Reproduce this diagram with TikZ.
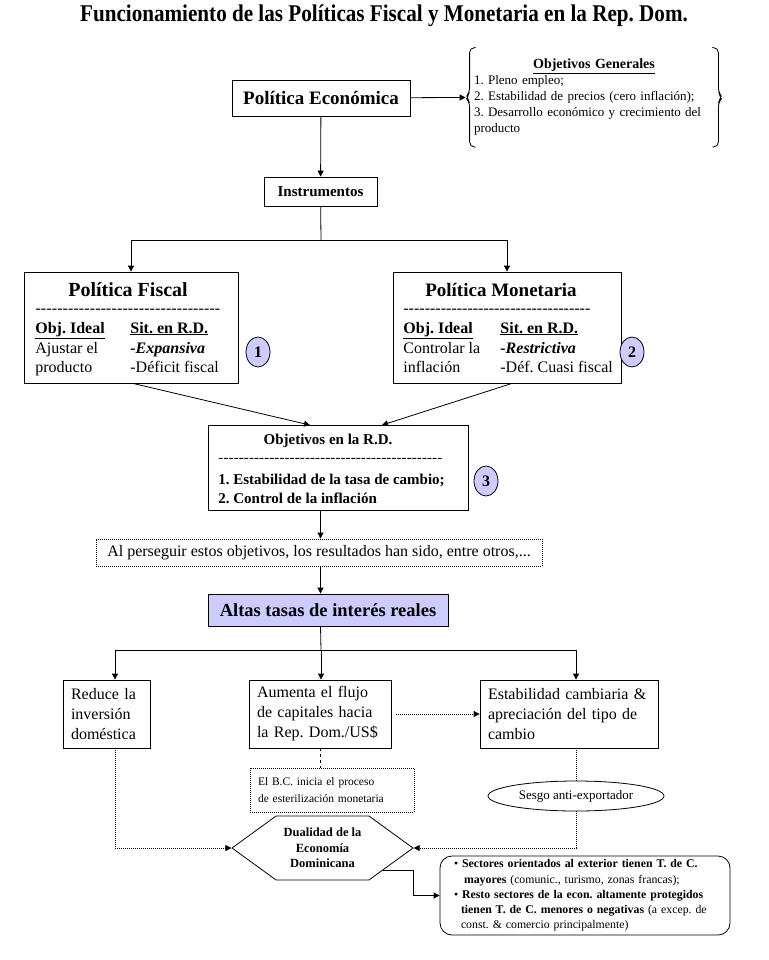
\documentclass[tikz,border=0pt]{standalone}
\usepackage{fontspec}
\setmainfont{Liberation Serif}
\usetikzlibrary{arrows.meta,shapes.geometric,shapes.symbols}
\definecolor{lila}{RGB}{204,204,255}
\newcommand\fsz[2]{\fontsize{#1}{#2}\selectfont}
\newcommand\hyphenrule[1]{\hbox to #1pt{\xleaders\hbox{-}\hfill}}
\frenchspacing

\begin{document}
\begin{tikzpicture}
  [x=1pt, y=-1pt, line width=0.8pt, >={Triangle[length=6pt,width=6pt]},
   box/.style={draw, rectangle, inner sep=0pt, align=center},
   txt/.style={inner sep=0pt, anchor=base west},
   dots/.style={dash pattern=on 1pt off 1pt},
   badge/.style={ellipse, draw, fill=lila, minimum width=24, minimum height=30,
     inner sep=0pt, font=\bfseries\fsz{16}{18}}]
  \useasboundingbox (0,0) rectangle (768,960);

  \node [inner sep=0pt, font=\bfseries\fsz{24}{28}] (title) at (384,16)
    {\scalebox{0.88}[1]{Funcionamiento de las Políticas Fiscal y Monetaria en la Rep. Dom.}};

  % top level
  \node [box, minimum width=178, minimum height=36, font=\bfseries\fsz{19}{22}] (pe) at (321,98) {Política Económica};
  \node [inner xsep=8pt, inner ysep=0pt, text width=240, minimum height=99, align=left,
    font=\fsz{13}{16}] (og) at (594,97.5)
    {\makebox[240pt]{\bfseries\fsz{14}{16}\underline{Objetivos Generales}}\\
     1. Pleno empleo;\\
     2. Estabilidad de precios (cero inflación);\\
     3. Desarrollo económico y crecimiento del\\
     producto};
  \draw [rounded corners=5] (og.north west) ++(10,0) -- ++(-6,0) -- ++(0,45) -- (og.west)
    -- ++(4,4.5) -- ++(0,45) -- ++(6,0);
  \draw [rounded corners=5] (og.north east) ++(-10,0) -- ++(6,0) -- ++(0,45) -- (og.east)
    -- ++(-4,4.5) -- ++(0,45) -- ++(-6,0);
  \node [box, minimum width=113, minimum height=29, font=\bfseries\fsz{15}{18}] (inst) at (320.5,191.5) {Instrumentos};

  \draw [->] (pe) -- (og.west);
  \draw [->] (pe) -- (inst);

  % fiscal and monetary policy
  \node [box, minimum width=214, minimum height=111] (pf) at (131,327.5) {};
  \node [inner sep=0pt, font=\bfseries\fsz{20}{22}] (pfT) at (128,290) {Política Fiscal};
  \node [txt, font=\fsz{16}{18}] (pfD) at (35,313) {\hyphenrule{185}};
  \node [txt, font=\bfseries\fsz{16}{18}] (pfO1) at (35,333) {\underline{Obj. Ideal}};
  \node [txt, font=\bfseries\fsz{16}{18}] (pfO2) at (130,333) {\underline{Sit. en R.D.}};
  \node [txt, font=\fsz{16}{18}] (pfA1) at (35,353) {Ajustar el};
  \node [txt, font=\bfseries\itshape\fsz{16}{18}] (pfA2) at (130,353) {-Expansiva};
  \node [txt, font=\fsz{16}{18}] (pfB1) at (35,372) {producto};
  \node [txt, font=\fsz{16}{18}] (pfB2) at (130,372) {-Déficit fiscal};
  \node [badge] (c1) at (258,352) {1};

  \node [box, minimum width=228, minimum height=111] (pm) at (507,327.5) {};
  \node [inner sep=0pt, font=\bfseries\fsz{19}{22}] (pmT) at (501,290) {Política Monetaria};
  \node [txt, font=\fsz{16}{18}] (pmD) at (403,313) {\hyphenrule{187}};
  \node [txt, font=\bfseries\fsz{16}{18}] (pmO1) at (403,333) {\underline{Obj. Ideal}};
  \node [txt, font=\bfseries\fsz{16}{18}] (pmO2) at (500,333) {\underline{Sit. en R.D.}};
  \node [txt, font=\fsz{16}{18}] (pmA1) at (403,353) {Controlar la};
  \node [txt, font=\bfseries\itshape\fsz{16}{18}] (pmA2) at (500,353) {-Restrictiva};
  \node [txt, font=\fsz{16}{18}] (pmB1) at (403,372) {inflación};
  \node [txt, font=\fsz{16}{18}] (pmB2) at (500,372) {-Déf. Cuasi fiscal};
  \node [badge] (c2) at (632,352) {2};

  \coordinate (s1) at (321,240);
  \draw (inst) -- (s1);
  \draw [->] (s1) -| (pf);
  \draw [->] (s1) -| (pm);

  % objectives in the R.D.
  \node [box, minimum width=260, minimum height=85] (ord) at (338,468) {};
  \node [inner sep=0pt, font=\bfseries\fsz{15}{18}] (ordT) at (328,441) {Objetivos en la R.D.};
  \node [txt, font=\fsz{15}{18}] (ordD) at (218,462) {\hyphenrule{224}};
  \node [txt, font=\bfseries\fsz{15}{18}] (ord1) at (218,484) {1. Estabilidad de la tasa de cambio;};
  \node [txt, font=\bfseries\fsz{15}{18}] (ord2) at (218,503) {2. Control de la inflación};
  \node [badge] (c3) at (486,481) {3};

  \draw [->] ([xshift=2]pf.south) -- ([xshift=-28]ord.north);
  \draw [->] ([xshift=5]pm.south) -- ([xshift=44]ord.north);

  \node [box, dots, minimum width=446, minimum height=27, font=\fsz{16}{18}] (alp) at (319,552.5)
    {Al perseguir estos objetivos, los resultados han sido, entre otros,...};
  \node [box, fill=lila, minimum width=240, minimum height=32, font=\bfseries\fsz{18.5}{21}] (alt) at (328,610)
    {Altas tasas de interés reales};
  \draw [->] (ord.south -| inst) -- (alp.north -| inst);
  \draw [->] (alp.south -| inst) -- (alt.north -| inst);

  % results
  \coordinate (s2) at (321,650);
  \coordinate (b1) at (115,650);
  \coordinate (b3) at (576,650);
  \draw (alt.south -| inst) -- (s2);
  \draw (b1) -- (b3);

  \node [box, align=left, inner xsep=8pt, text width=71, minimum height=68, font=\fsz{16}{20}] (red) at (106.5,714)
    {Reduce la\\ inversión\\ doméstica};
  \node [box, align=left, inner xsep=8pt, text width=126, minimum height=68, font=\fsz{16}{20}] (aum) at (320,714)
    {Aumenta el flujo\\ de capitales hacia\\ la Rep. Dom./US\$};
  \node [box, align=left, inner xsep=8pt, text width=162, minimum height=68, font=\fsz{16}{20}] (est) at (569,714)
    {Estabilidad cambiaria \&\\ apreciación del tipo de\\ cambio};

  \draw [->] (b1) -- (b1 |- red.north);
  \draw [->] (s2) -- (s2 |- aum.north);
  \draw [->] (b3) -- (b3 |- est.north);
  \draw [dots, ->] ([xshift=5]aum.east) -- (est.west);

  \node [box, dots, align=left, inner xsep=8pt, text width=148, minimum height=44, font=\fsz{11.5}{17}] (bc) at (332,790)
    {El B.C. inicia el proceso\\ de esterilización monetaria};
  \draw [dashed] (aum.south) -- (aum.south |- bc.north);

  \node [ellipse, draw, minimum width=176, minimum height=30, inner sep=0pt, font=\fsz{13}{15}] (ses) at (576,796)
    {Sesgo anti-exportador};
  \draw [dots] (ses.north |- est.south) -- (ses.north);

  \node [signal, signal to=west and east, signal pointer angle=72, draw, inner sep=0pt,
    minimum width=181, minimum height=64, align=center, font=\bfseries\fsz{12.5}{15.5}] (dual) at (322.5,848)
    {Dualidad de la\\ Economía\\ Dominicana};

  \draw [dots, ->] (red.south -| b1) |- (dual.west);
  \draw [dots, ->] (ses.south) |- (dual.east);

  \node [draw, rounded corners=12, inner xsep=14pt, inner ysep=0pt, text width=262, minimum height=79,
    align=left, font=\fsz{11.8}{15.3}] (sect) at (585,895.5)
    {\textbullet\ \textbf{Sectores orientados al exterior tienen T. de C.}\\
     \hspace*{10pt}\textbf{mayores} (comunic., turismo, zonas francas);\\
     \textbullet\ \textbf{Resto sectores de la econ. altamente protegidos}\\
     \hspace*{7pt}\textbf{tienen T. de C. menores o negativas} (a excep. de\\
     \hspace*{7pt}const. \& comercio principalmente)};
  \draw [->] (dual.-20) -- ++(30,0) |- (sect.west);
\end{tikzpicture}
\end{document}
